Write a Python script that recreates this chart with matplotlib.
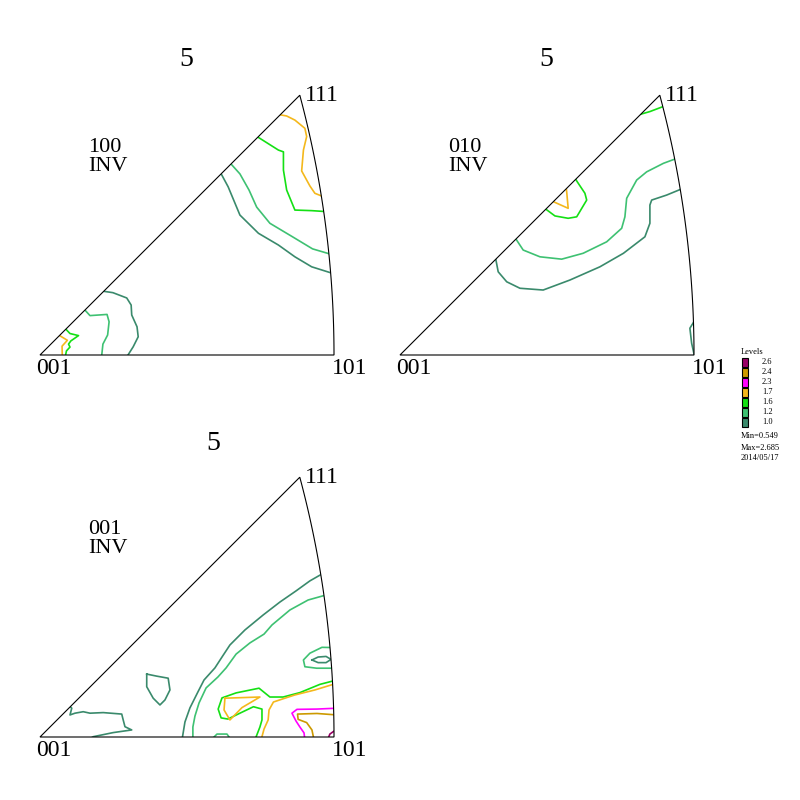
import numpy as np
import matplotlib
matplotlib.use("Agg")
import matplotlib.pyplot as plt
from matplotlib.patches import Polygon

plt.rcParams['font.family'] = ['Liberation Serif', 'DejaVu Serif']

# ---------------- data ----------------
levels = [2.6, 2.4, 2.3, 1.7, 1.6, 1.2, 1.0]
level_colors = ['#990066', '#cc9900', '#ff00ff', '#f4b81c', '#14e014', '#3ec172', '#3a8a6c']
corner_labels = ['001', '101', '111']
panel_titles = ['5', '5', '5']
panel_names = ['100\nINV', '010\nINV', '001\nINV']
min_value = 0.549
max_value = 2.685
date_label = '2014/05/17'

# contour polylines, coordinates in % of the stereographic distance 001 -> 101
# --- 100 inverse pole figure
p100_17a = [(80.0, 82.0), (83.9, 81.3), (86.7, 79.9), (90.1, 77.1), (90.7, 74.3), (89.6, 69.7),
            (89.0, 62.6), (91.8, 57.5), (93.5, 55.0), (97.5, 53.4)]
p100_16a = [(73.5, 74.5), (81.1, 69.7), (82.8, 69.1), (82.8, 62.9), (83.9, 56.1), (86.7, 49.3),
            (92.4, 49.1), (98.5, 48.7)]
p100_12a = [(64.5, 65.5), (68.0, 61.6), (71.1, 56.1), (73.7, 50.3), (78.2, 44.8), (85.9, 40.2),
            (92.7, 36.1), (100.5, 33.8)]
p100_10a = [(61.2, 62.4), (64.0, 57.2), (68.0, 47.6), (74.3, 41.4), (81.1, 37.4), (86.7, 33.4),
            (92.4, 30.0), (101.0, 27.3)]
p100_10b = [(20.8, 21.8), (24.8, 21.2), (29.5, 19.4), (31.0, 17.0), (31.2, 13.6), (33.0, 9.6),
            (33.4, 6.2), (31.7, 2.8), (29.3, -1.0)]
p100_12b = [(15.0, 15.6), (17.0, 13.4), (22.8, 13.8), (23.5, 11.3), (23.0, 6.8), (21.4, 3.7),
            (20.9, -1.0)]
p100_16b = [(8.4, 9.2), (10.2, 7.3), (13.1, 6.6), (10.5, 4.8), (9.7, 3.7), (10.2, 2.7),
            (9.0, 1.4), (8.5, -1.0)]
p100_17b = [(6.0, 7.0), (8.0, 5.8), (9.3, 5.0), (7.5, 3.0), (7.6, -1.0)]

# --- 010 inverse pole figure
p010_16a = [(80.5, 81.5), (85.0, 82.8), (90.8, 85.0)]
p010_12a = [(39.2, 39.8), (41.9, 35.7), (47.6, 33.4), (55.0, 32.6), (62.3, 34.6), (70.3, 38.5),
            (75.4, 43.1), (76.5, 47.0), (77.1, 53.3), (80.5, 59.5), (83.9, 62.3), (89.6, 65.2),
            (95.0, 67.2)]
p010_10a = [(32.5, 33.0), (33.4, 28.3), (36.3, 24.9), (40.8, 22.7), (48.7, 22.1), (57.8, 25.5),
            (68.0, 30.0), (76.0, 34.6), (83.3, 40.2), (85.0, 44.8), (85.0, 51.0), (85.6, 52.7),
            (90.7, 54.4), (97.5, 57.2)]
p010_16b = [(49.2, 49.9), (52.7, 47.3), (57.2, 46.5), (60.1, 47.0), (63.5, 52.7), (62.9, 55.0),
            (60.3, 58.9), (59.5, 60.2)]
p010_17b = [(51.6, 52.4), (57.2, 49.9), (56.7, 55.5), (56.5, 57.0)]
p010_10b = [(101.0, 13.0), (98.6, 9.1), (99.2, 4.0), (100.3, -1.0)]

# --- 001 inverse pole figure
p001_10a = [(96.0, 55.5), (91.8, 53.1), (87.1, 49.7), (81.6, 45.9), (75.9, 41.5), (69.7, 36.4),
            (64.6, 31.3), (61.9, 27.2), (59.5, 23.5), (55.8, 19.4), (53.7, 15.3), (51.0, 9.9),
            (49.3, 5.1), (48.3, -1.0)]
p001_12a = [(98.0, 48.5), (91.2, 46.6), (85.0, 43.2), (78.9, 38.1), (76.2, 35.0), (71.4, 32.0),
            (66.7, 28.2), (63.3, 23.5), (60.5, 20.4), (56.5, 16.7), (54.1, 11.6), (52.7, 7.1),
            (52.0, 3.4), (52.0, -1.0)]
p001_12b = [(100.5, 30.4), (95.9, 30.5), (91.8, 28.5), (89.6, 26.2), (90.1, 23.9), (94.1, 23.4),
            (101.0, 23.4)]
p001_10b = [(92.5, 26.2), (94.6, 27.2), (97.3, 27.4), (99.0, 26.4), (97.3, 25.3), (94.6, 25.3),
            (92.5, 26.2)]
p001_10c = [(36.3, 21.4), (39.7, 20.7), (43.6, 20.0), (44.2, 16.0), (42.5, 12.6), (40.8, 10.9),
            (38.5, 13.2), (36.3, 17.1), (36.3, 21.4)]
p001_10d = [(9.6, 11.0), (10.8, 9.8), (10.2, 7.5), (11.9, 8.1), (14.7, 8.6), (17.0, 8.1),
            (21.5, 8.3), (27.8, 7.8), (28.3, 5.8), (28.9, 3.5), (31.2, 2.4), (24.9, 1.5),
            (18.1, 0.1), (16.3, -1.0)]
p001_12c = [(58.2, -1.0), (60.2, 1.0), (63.6, 1.0), (65.0, -1.0)]
p001_16a = [(101.0, 19.4), (95.2, 17.9), (88.4, 15.1), (82.7, 13.6), (78.2, 13.6), (74.5, 16.6),
            (66.7, 15.0), (61.9, 13.3), (60.6, 9.5), (61.6, 6.5), (63.9, 6.1), (68.0, 8.1),
            (72.6, 10.3), (75.5, 9.5), (75.5, 5.8), (74.8, 3.4), (73.1, -1.0)]
p001_17a = [(62.9, 13.2), (74.8, 13.6), (68.7, 10.0), (64.6, 5.8), (62.6, 9.2), (62.9, 13.2)]
p001_17b = [(101.0, 18.3), (93.5, 16.0), (86.7, 14.3), (83.3, 13.2), (79.4, 11.9), (77.9, 9.2),
            (77.6, 5.8), (76.2, 2.7), (75.2, -1.0)]
p001_23 = [(101.0, 9.8), (94.2, 9.5), (87.4, 9.4), (85.7, 8.1), (87.1, 5.4), (88.4, 3.4),
           (89.8, 1.4), (90.1, -1.0)]
p001_24 = [(101.0, 7.5), (94.2, 8.0), (87.6, 7.8), (87.8, 6.0), (90.7, 4.9), (92.5, 2.4),
           (93.2, -1.0)]
p001_26 = [(97.8, -1.0), (98.6, 1.0), (100.0, 2.0), (101.5, 2.4)]

panels = [
    [(1.0, p100_10a), (1.2, p100_12a), (1.6, p100_16a), (1.7, p100_17a),
     (1.0, p100_10b), (1.2, p100_12b), (1.6, p100_16b), (1.7, p100_17b)],
    [(1.6, p010_16a), (1.2, p010_12a), (1.0, p010_10a), (1.6, p010_16b),
     (1.7, p010_17b), (1.0, p010_10b)],
    [(1.0, p001_10a), (1.2, p001_12a), (1.2, p001_12b), (1.0, p001_10b), (1.0, p001_10c),
     (1.0, p001_10d), (1.2, p001_12c), (1.6, p001_16a), (1.7, p001_17a), (1.7, p001_17b),
     (2.3, p001_23), (2.4, p001_24), (2.6, p001_26)],
]

# ---------------- layout ----------------
W = H = 800
PX = 2.94                      # pixels per data unit
origins = [(40, 355), (400, 355), (40, 737)]
title_px = [(186, 60), (546, 60), (213, 443)]
color_of = dict(zip(levels, level_colors))
S = 100 / np.tan(np.pi / 8)    # stereographic unit -> data unit


def ipf_boundary(n=80):
    th = np.linspace(0, np.pi / 12, n)
    arc = np.column_stack([(-1 + np.sqrt(2) * np.cos(th)) * S, np.sqrt(2) * np.sin(th) * S])
    return np.vstack([[0, 0], arc])


fig = plt.figure(figsize=(8, 8), dpi=100)
for k, (ox, oy) in enumerate(origins):
    l, r, t, b = ox - 30, ox + 330, oy - 300, oy + 25
    ax = fig.add_axes([l / W, 1 - b / H, (r - l) / W, (b - t) / H])
    ax.set_xlim(-30 / PX, 330 / PX)
    ax.set_ylim(-25 / PX, 300 / PX)
    ax.axis('off')
    bnd = ipf_boundary()
    poly = Polygon(bnd, closed=True, fill=False, ec='black', lw=0.8, zorder=3)
    ax.add_patch(poly)
    for lvl, pts in panels[k]:
        pts = np.asarray(pts)
        line, = ax.plot(pts[:, 0], pts[:, 1], color=color_of[lvl], lw=1.2, zorder=2)
        line.set_clip_path(poly)
    apex = bnd[-1]
    ax.text(-4 / PX, -3 / PX, corner_labels[0], ha='left', va='top', fontsize=17)
    ax.text(100 - 2 / PX, -3 / PX, corner_labels[1], ha='left', va='top', fontsize=17)
    ax.text(apex[0] + 5 / PX, apex[1], corner_labels[2], ha='left', va='center', fontsize=17)
    ax.text(48 / PX, 198 / PX, panel_names[k], ha='left', va='center', fontsize=16,
            linespacing=1.0)
    tx, ty = title_px[k]
    fig.text(tx / W, 1 - ty / H, panel_titles[k], ha='center', va='center', fontsize=20)

# ---------------- legend ----------------
lx0, lx1, ly0, ly1 = 735, 795, 345, 470
lax = fig.add_axes([lx0 / W, 1 - ly1 / H, (lx1 - lx0) / W, (ly1 - ly0) / H])
lax.set_xlim(0, lx1 - lx0)
lax.set_ylim((ly1 - 362.5) / 10, (ly0 - 362.5) / 10)
lax.axis('off')
rows = np.arange(len(levels))
lax.bar(np.full(len(levels), 7.0), np.full(len(levels), 0.9), width=6, bottom=rows - 0.45,
        align='edge', color=level_colors, edgecolor='black', linewidth=0.8)
lax.text(6, -1.1, 'Levels', fontsize=6, ha='left', va='center')
for i, lv in enumerate(levels):
    lax.text(27, i, f'{lv:.1f}', fontsize=6, ha='left', va='center')
lax.text(6, 7.4, f'Min={min_value}', fontsize=6, ha='left', va='center')
lax.text(6, 8.5, f'Max={max_value}', fontsize=6, ha='left', va='center')
lax.text(6, 9.5, date_label, fontsize=6, ha='left', va='center')

fig.savefig('out.png', dpi=100, facecolor='white')
